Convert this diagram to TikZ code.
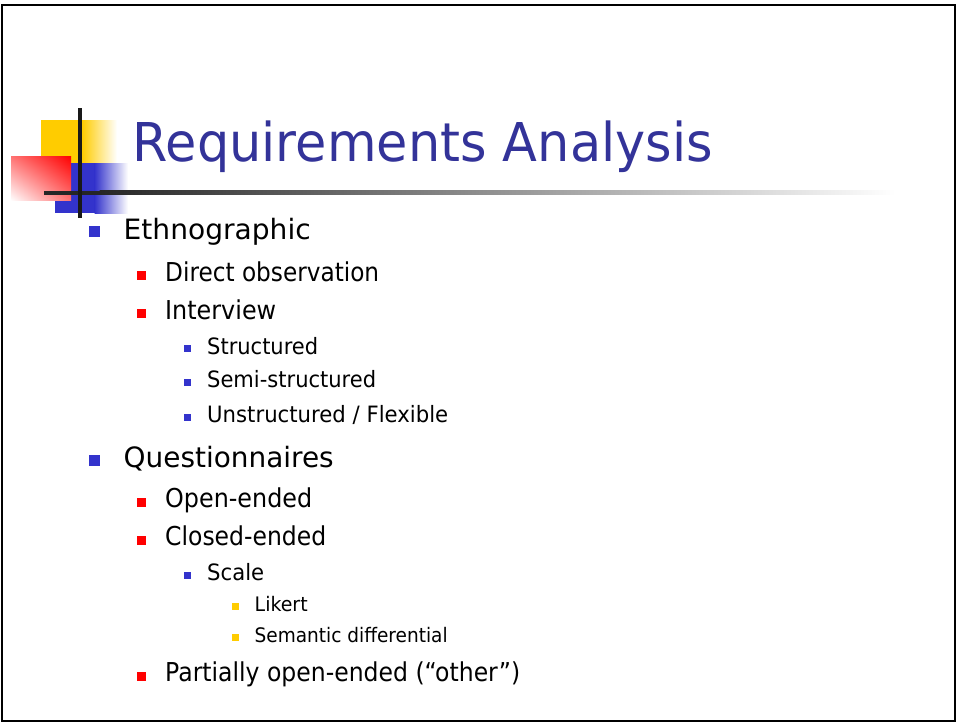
\documentclass[tikz,border=0pt]{standalone}
\usepackage{fontspec}
\setmainfont{DejaVu Sans}
\usepackage{graphicx}
\usetikzlibrary{shadings}
\newcommand\fitw[2]{\resizebox{#1pt}{\height}{#2}}
\definecolor{slblue}{HTML}{3333CC}
\definecolor{sltitle}{HTML}{333399}
\definecolor{slred}{HTML}{FF0000}
\definecolor{slyellow}{HTML}{FFCC00}
\definecolor{sldark}{HTML}{262626}
\begin{document}
\begin{tikzpicture}[x=1pt,y=-1pt,
  titlestyle/.style={anchor=base west,inner sep=0pt,text=sltitle,font=\fontsize{53.5}{60}\selectfont},
  lvone/.style={anchor=base west,inner sep=0pt,text=black,font=\fontsize{28}{32}\selectfont},
  lvtwo/.style={anchor=base west,inner sep=0pt,text=black,font=\fontsize{26}{30}\selectfont},
  lvthree/.style={anchor=base west,inner sep=0pt,text=black,font=\fontsize{22.5}{26}\selectfont},
  lvfour/.style={anchor=base west,inner sep=0pt,text=black,font=\fontsize{20}{23}\selectfont},
  bulone/.style={fill=slblue,draw=none,inner sep=0pt,minimum size=10.5pt},
  bultwo/.style={fill=slred,draw=none,inner sep=0pt,minimum size=9pt},
  bulthree/.style={fill=slblue,draw=none,inner sep=0pt,minimum size=7pt},
  bulfour/.style={fill=slyellow,draw=none,inner sep=0pt,minimum size=7pt}]
\useasboundingbox (0,0) rectangle (958,723);
\fill[white] (0,0) rectangle (958,723);

% logo
\fill[slyellow] (41,120) rectangle (82.5,163.5);
\shade[left color=slyellow,right color=white] (82,120) rectangle (117,163.5);
\fill[slblue] (55,163.3) rectangle (95,213);
\shade[left color=slblue,right color=white] (94.5,163.3) rectangle (128,213);
\shade[upper right=slred,upper left=slred!55,lower right=slred!55,lower left=white] (11,156) rectangle (71,200.7);
\fill[sldark] (44,190.7) rectangle (100,194.7);
\shade[left color=sldark,right color=white] (99.5,190.7) rectangle (895,194.7);
\fill[black!90] (77.7,108) rectangle (81.7,218);

% title
\node[titlestyle] (title) at (132.5,161.7) {\fitw{580}{Requirements Analysis}};

% level 1
\node[bulone] (b1) at (94.7,231.5) {};
\node[lvone] (t1) at (123.5,239) {\fitw{187}{Ethnographic}};
\node[bulone] (b2) at (94.7,460.5) {};
\node[lvone] (t2) at (123.5,467.3) {\fitw{210}{Questionnaires}};

% level 2
\node[bultwo] (b3) at (141.2,275.5) {};
\node[lvtwo] (t3) at (165,281) {\fitw{214}{Direct observation}};
\node[bultwo] (b4) at (141.2,313.5) {};
\node[lvtwo] (t4) at (165,319) {\fitw{111}{Interview}};
\node[bultwo] (b5) at (141.2,502) {};
\node[lvtwo] (t5) at (165,507.3) {\fitw{147}{Open-ended}};
\node[bultwo] (b6) at (141.2,540) {};
\node[lvtwo] (t6) at (165,545) {\fitw{161}{Closed-ended}};
\node[bultwo] (b7) at (141.2,676.5) {};
\node[lvtwo] (t7) at (165,681.7) {\fitw{355}{Partially open-ended (“other”)}};

% level 3
\node[bulthree] (b8) at (187.8,348.5) {};
\node[lvthree] (t8) at (207,354) {\fitw{111}{Structured}};
\node[bulthree] (b9) at (187.8,382) {};
\node[lvthree] (t9) at (207,387.3) {\fitw{169}{Semi-structured}};
\node[bulthree] (b10) at (187.8,417) {};
\node[lvthree] (t10) at (207,422.3) {\fitw{241}{Unstructured / Flexible}};
\node[bulthree] (b11) at (187.8,575) {};
\node[lvthree] (t11) at (207,580) {\fitw{57}{Scale}};

% level 4
\node[bulfour] (b12) at (235.7,606.7) {};
\node[lvfour] (t12) at (254.5,611.7) {\fitw{53}{Likert}};
\node[bulfour] (b13) at (235.7,637.3) {};
\node[lvfour] (t13) at (254.5,642.3) {\fitw{193}{Semantic differential}};

% frame
\draw[line width=2pt,black] (1.5,5) rectangle (955,721.3);
\end{tikzpicture}
\end{document}
